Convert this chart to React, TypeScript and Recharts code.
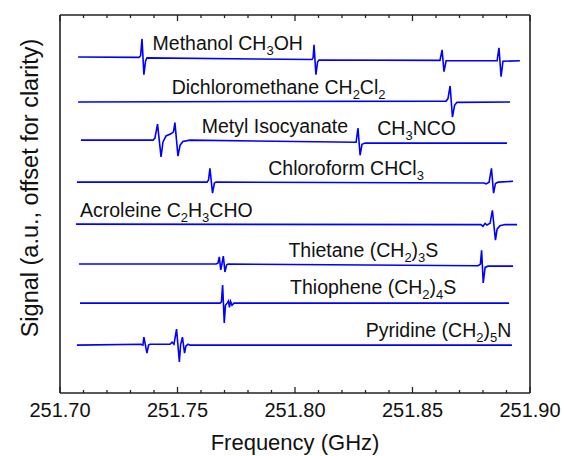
import React from 'react';
import { LineChart, Line, XAxis, YAxis, ReferenceDot } from 'recharts';

const FONT = '"Liberation Sans", Arial, Helvetica, sans-serif';
const BLUE = '#0000ff';
const FRAME = '#222';

// [frequency GHz, signal a.u.] for each spectrum, before the vertical offset
const methanol = [
  [251.7077, 0.02], [251.7336, 0.01], [251.7343, 0.05], [251.7349, 0.45],
  [251.7357, -0.4], [251.7364, -0.08], [251.737, 0.0],
  [251.8072, -0.04], [251.8077, 0.0], [251.8081, 0.31], [251.8089, -0.4],
  [251.8096, -0.1], [251.8102, -0.05],
  [251.8617, -0.06], [251.8626, 0.19], [251.8634, -0.33], [251.8643, -0.07],
  [251.886, -0.07], [251.8868, 0.24], [251.8877, -0.45], [251.8885, -0.08],
  [251.8957, -0.07],
];
const dichloromethane = [
  [251.7077, 0.0], [251.8643, 0.02], [251.8651, 0.08], [251.866, 0.38],
  [251.867, -0.36], [251.8679, -0.08], [251.8689, -0.01], [251.8915, 0.0],
];
const metylIsocyanate = [
  [251.7089, 0.0], [251.7396, 0.0], [251.7404, 0.05], [251.7415, 0.38],
  [251.743, -0.4], [251.7438, -0.05], [251.7451, 0.1], [251.7472, 0.15],
  [251.7483, 0.2], [251.7489, 0.42], [251.7502, -0.38], [251.7511, -0.12],
  [251.7523, -0.03], [251.7553, 0.0],
  [251.826, -0.05], [251.8268, 0.29], [251.8277, -0.36], [251.8285, -0.1],
  [251.8298, -0.07], [251.8902, -0.07],
];
const chloroform = [
  [251.7072, 0.0], [251.7626, 0.0], [251.7632, 0.05], [251.7638, 0.33],
  [251.7649, -0.26], [251.7657, -0.02], [251.7664, 0.0],
  [251.8804, -0.02], [251.8813, -0.04], [251.8826, 0.0], [251.8836, 0.33],
  [251.8845, -0.26], [251.8853, -0.03], [251.8864, 0.0], [251.8928, 0.02],
];
const acroleine = [
  [251.7068, 0.0], [251.8791, -0.01], [251.88, -0.05], [251.8809, 0.02],
  [251.8817, -0.02], [251.883, 0.02], [251.884, 0.33], [251.8853, -0.38],
  [251.886, -0.12], [251.8872, -0.04], [251.8894, -0.01], [251.8945, -0.01],
];
const thietane = [
  [251.7081, 0.0], [251.7664, 0.0], [251.7672, 0.02], [251.7678, 0.17],
  [251.7684, -0.14], [251.7689, 0.0], [251.7695, 0.19], [251.7702, -0.19],
  [251.7709, -0.02], [251.7715, 0.0],
  [251.8779, -0.04], [251.8789, 0.0], [251.8794, 0.33], [251.8801, -0.45],
  [251.8809, -0.08], [251.8821, -0.05], [251.8928, -0.05],
];
const thiophene = [
  [251.7085, 0.0], [251.7681, 0.0], [251.7687, 0.03], [251.7692, 0.43],
  [251.7699, -0.47], [251.7704, -0.05], [251.7711, 0.0], [251.7717, 0.05],
  [251.7721, -0.1], [251.7726, 0.04], [251.7732, -0.05], [251.774, 0.0],
  [251.8911, 0.0],
];
const pyridine = [
  [251.7072, 0.0], [251.7345, 0.02], [251.7353, 0.0], [251.7357, 0.19],
  [251.737, -0.19], [251.7377, 0.0], [251.7383, 0.02],
  [251.7468, 0.02], [251.7477, 0.07], [251.7485, 0.02], [251.7496, 0.38],
  [251.7508, -0.4], [251.7513, 0.0], [251.7521, 0.19], [251.753, -0.19],
  [251.7536, -0.02], [251.7545, 0.02], [251.7553, 0.0], [251.8923, 0.0],
];

const spectra = [methanol, dichloromethane, metylIsocyanate, chloroform,
  acroleine, thietane, thiophene, pyridine];
const offsets = [7.98, 6.93, 6.02, 5.02, 4.02, 3.07, 2.14, 1.14];

// label pieces: odd entries are subscripts; anchored at [frequency, offset signal]
const labelParts = [
  ['Methanol CH', '3', 'OH'],
  ['Dichloromethane CH', '2', 'Cl', '2'],
  ['Metyl Isocyanate'],
  ['CH', '3', 'NCO'],
  ['Chloroform CHCl', '3'],
  ['Acroleine C', '2', 'H', '3', 'CHO'],
  ['Thietane (CH', '2', ')', '3', 'S'],
  ['Thiophene (CH', '2', ')', '4', 'S'],
  ['Pyridine (CH', '2', ')', '5', 'N'],
];
const labelFreq = [251.7394, 251.7475, 251.7603, 251.835, 251.7886, 251.7085, 251.7972, 251.7979, 251.8301];
const labelLevel = [8.167, 7.119, 6.19, 6.143, 5.19, 4.198, 3.238, 2.357, 1.34];

const xTicks = [
  251.70, 251.71, 251.72, 251.73, 251.74, 251.75, 251.76, 251.77, 251.78, 251.79,
  251.80, 251.81, 251.82, 251.83, 251.84, 251.85, 251.86, 251.87, 251.88, 251.89, 251.90,
];

const series = spectra.map((pts, i) =>
  pts.map(([f, s]) => ({ f, v: offsets[i] + s }))
);

const isMajor = (v: number) => Math.round(v * 100) % 5 === 0;

const BottomTick = (props: any) => {
  const { x, y, payload } = props;
  const major = isMajor(payload.value);
  return (
    <g>
      <line x1={x} x2={x} y1={y} y2={y - (major ? 6 : 3)} stroke={FRAME} strokeWidth={1.3} />
      {major && (
        <text x={x} y={y + 24} textAnchor="middle" fontFamily={FONT} fontSize={20} fill="#111">
          {payload.value.toFixed(2)}
        </text>
      )}
    </g>
  );
};

const TopTick = (props: any) => {
  const { x, y, payload } = props;
  const major = isMajor(payload.value);
  return <line x1={x} x2={x} y1={y} y2={y + (major ? 6 : 3)} stroke={FRAME} strokeWidth={1.3} />;
};

const Formula = ({ cx, cy, parts }: any) => {
  let shifted = false;
  return (
    <text x={cx} y={cy} fontFamily={FONT} fontSize={19.5} fill="#111">
      {parts.map((p: string, k: number) => {
        const sub = k % 2 === 1;
        const dy = sub ? 5 : shifted ? -5 : 0;
        shifted = sub;
        return (
          <tspan key={k} dy={dy} fontSize={sub ? 13 : 19.5}>
            {p}
          </tspan>
        );
      })}
    </text>
  );
};

const XTitle = ({ viewBox }: any) => (
  <text x={viewBox.x + viewBox.width / 2} y={viewBox.y + 57} textAnchor="middle"
    fontFamily={FONT} fontSize={22} fill="#111">
    Frequency (GHz)
  </text>
);

const YTitle = ({ viewBox }: any) => {
  const cx = viewBox.x + 30;
  const cy = viewBox.y + 173;
  return (
    <text x={cx} y={cy} transform={`rotate(-90 ${cx} ${cy})`} textAnchor="middle"
      dominantBaseline="central" fontFamily={FONT} fontSize={23.5} fill="#111">
      Signal (a.u., offset for clarity)
    </text>
  );
};

export default function App() {
  return (
    <div style={{ position: 'absolute', left: 0, top: 0, background: '#fff' }}>
      <LineChart width={564} height={456} margin={{ top: 14, right: 0, bottom: 0, left: 0 }}>
        <XAxis xAxisId="top" orientation="top" type="number" dataKey="f"
          domain={[251.7, 251.9]} ticks={xTicks} interval={0} height={1}
          allowDataOverflow tickSize={0} tickMargin={0} tickLine={false}
          tick={<TopTick />} axisLine={{ stroke: FRAME, strokeWidth: 1.6 }} />
        <XAxis xAxisId="main" type="number" dataKey="f" domain={[251.7, 251.9]}
          ticks={xTicks} interval={0} height={63} allowDataOverflow
          tickSize={0} tickMargin={0} tickLine={false} tick={<BottomTick />}
          axisLine={{ stroke: FRAME, strokeWidth: 1.6 }} label={<XTitle />} />
        <YAxis yAxisId="left" type="number" domain={[0, 9]} width={60}
          tick={false} tickLine={false} axisLine={{ stroke: FRAME, strokeWidth: 1.6 }}
          allowDataOverflow label={<YTitle />} />
        <YAxis yAxisId="right" orientation="right" type="number" domain={[0, 9]} width={34}
          allowDataOverflow tick={false} tickLine={false}
          axisLine={{ stroke: FRAME, strokeWidth: 1.6 }} />
        {/* unstroked copy that ties the top and right frame axes to the plot */}
        <Line xAxisId="top" yAxisId="right" data={series[0]} dataKey="v" stroke="none"
          dot={false} activeDot={false} isAnimationActive={false} />
        {series.map((data, i) => (
          <Line key={i} xAxisId="main" yAxisId="left" data={data} dataKey="v"
            type="linear" stroke={BLUE} strokeWidth={1.6} dot={false}
            isAnimationActive={false} />
        ))}
        {labelParts.map((parts, i) => (
          <ReferenceDot key={i} xAxisId="main" yAxisId="left" x={labelFreq[i]} y={labelLevel[i]}
            r={1} ifOverflow="visible"
            shape={(p: any) => <Formula cx={p.cx} cy={p.cy} parts={parts} />} />
        ))}
      </LineChart>
    </div>
  );
}
